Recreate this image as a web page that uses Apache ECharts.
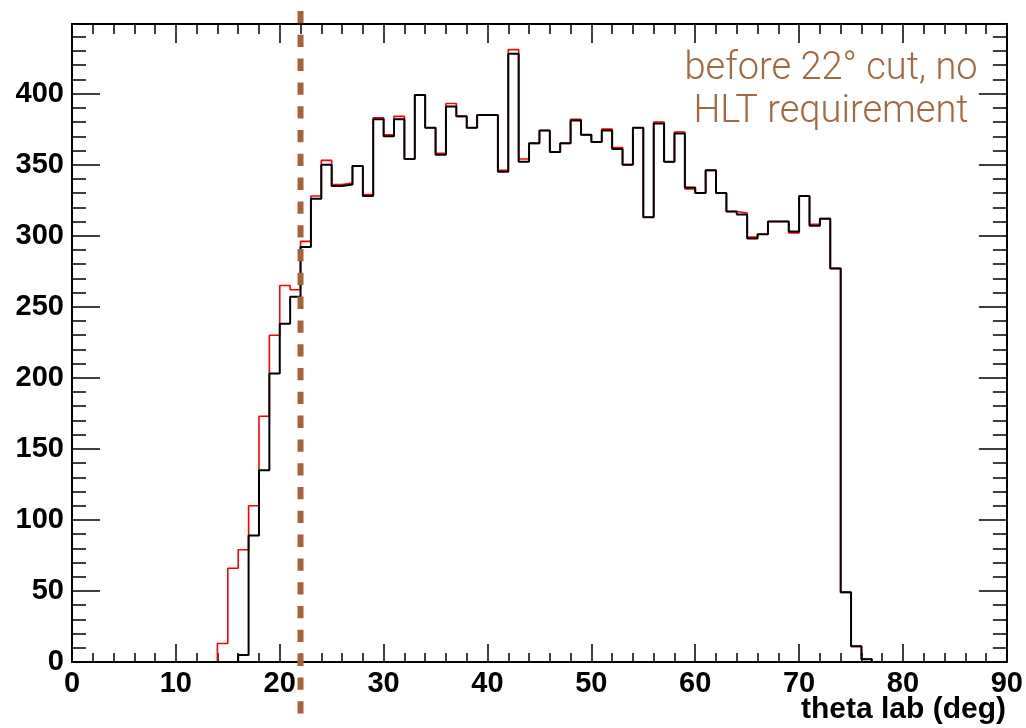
<!DOCTYPE html>
<html>
<head>
<meta charset="utf-8">
<script src="https://cdn.jsdelivr.net/npm/echarts@6/dist/echarts.min.js"></script>
<style>
  html, body { margin: 0; padding: 0; background: #fff; }
  #chart { width: 1026px; height: 728px; }
</style>
</head>
<body>
<div id="chart"></div>
<script>
// bin lower edges (deg), 1 deg wide bins from 0 to 90
const binEdges = Array.from({ length: 90 }, (_, i) => i);

// before cut, no HLT requirement (red)
const redCounts = [
  0, 0, 0, 0, 0, 0, 0, 0, 0, 0,
  0, 0, 0, 0, 13, 66, 79, 110, 173, 230,
  265, 262, 296, 328, 353, 336, 337, 349, 329, 383,
  371, 384, 354, 399, 376, 358, 393, 384, 376, 385,
  385, 346, 431, 354, 365, 374, 359, 365, 382, 371,
  366, 375, 362, 350, 376, 313, 380, 352, 373, 333,
  330, 346, 330, 317, 316, 299, 301, 310, 310, 302,
  328, 308, 312, 277, 49, 11, 2, 0, 0, 0,
  0, 0, 0, 0, 0, 0, 0, 0, 0, 0
];

// black histogram
const blackCounts = [
  0, 0, 0, 0, 0, 0, 0, 0, 0, 0,
  0, 0, 0, 0, 0, 0, 5, 89, 135, 203,
  238, 257, 292, 326, 350, 335, 336, 349, 328, 382,
  370, 382, 354, 399, 376, 357, 391, 384, 376, 385,
  385, 345, 428, 352, 365, 374, 359, 365, 381, 371,
  366, 374, 361, 350, 376, 313, 379, 352, 372, 334,
  330, 346, 330, 317, 315, 298, 301, 310, 310, 303,
  328, 307, 312, 277, 49, 11, 2, 0, 0, 0,
  0, 0, 0, 0, 0, 0, 0, 0, 0, 0
];

const cutAngle = 22;
const noteLines = ['before 22\u00b0 cut, no', 'HLT requirement'];

// step points: each bin's value from its low edge, closed at the last high edge
const toSteps = counts => {
  const pts = binEdges.map((x, i) => [x, counts[i]]);
  pts.push([binEdges[binEdges.length - 1] + 1, counts[counts.length - 1]]);
  return pts;
};

const chart = echarts.init(document.getElementById('chart'), null, { renderer: 'canvas' });

const labelFont = { fontFamily: '"Liberation Sans", Arial, sans-serif', fontWeight: 'bold', fontSize: 29, color: '#000' };
const frameLine = { show: true, onZero: false, lineStyle: { color: '#000', width: 2 } };

const xBase = { type: 'value', min: 0, max: 90, interval: 10, splitLine: { show: false }, axisLine: frameLine };
const yBase = { type: 'value', min: 0, max: 449, interval: 50, splitLine: { show: false }, axisLine: frameLine };

chart.setOption({
  backgroundColor: '#fff',
  animation: false,
  grid: { left: 72, right: 19, top: 24, bottom: 66, containLabel: false },
  title: {
    text: 'theta lab (deg)',
    right: 20, top: 694, padding: 0,
    textStyle: { ...labelFont, fontSize: 30, lineHeight: 32 }
  },
  xAxis: [
    { ...xBase, position: 'bottom',
      axisTick: { inside: true, length: 18, lineStyle: { color: '#000', width: 1.5 } },
      minorTick: { show: true, splitNumber: 5, length: 9, lineStyle: { color: '#000', width: 1.5 } },
      axisLabel: { ...labelFont, margin: 7 } },
    { ...xBase, position: 'top',
      axisTick: { inside: true, length: 19, lineStyle: { color: '#000', width: 1.5 } },
      minorTick: { show: true, splitNumber: 5, length: 10, lineStyle: { color: '#000', width: 1.5 } },
      axisLabel: { show: false } }
  ],
  yAxis: [
    { ...yBase, position: 'left',
      axisTick: { inside: true, length: 28, lineStyle: { color: '#000', width: 1.5 } },
      minorTick: { show: true, splitNumber: 5, length: 14, lineStyle: { color: '#000', width: 1.5 } },
      axisLabel: { ...labelFont, margin: 8, showMaxLabel: false } },
    { ...yBase, position: 'right',
      axisTick: { inside: true, length: 28, lineStyle: { color: '#000', width: 1.5 } },
      minorTick: { show: true, splitNumber: 5, length: 14, lineStyle: { color: '#000', width: 1.5 } },
      axisLabel: { show: false } }
  ],
  series: [
    {
      name: 'before cut', type: 'line', step: 'end', showSymbol: false, symbol: 'none',
      data: toSteps(redCounts),
      lineStyle: { color: '#ff0000', width: 1.6 }, z: 2
    },
    {
      name: 'after cut', type: 'line', step: 'end', showSymbol: false, symbol: 'none',
      data: toSteps(blackCounts),
      lineStyle: { color: '#000', width: 2 }, z: 3
    }
  ]
});

// vertical dashed marker at the cut, running past the frame like the original
const cutX = chart.convertToPixel({ xAxisIndex: 0 }, cutAngle);
chart.setOption({
  graphic: [
    {
      type: 'line', z: 100, silent: true,
      shape: { x1: cutX, y1: 11, x2: cutX, y2: 720 },
      style: { stroke: '#a5633a', lineWidth: 6, lineDash: [12.3, 11.5] }
    },
    ...noteLines.map((t, i) => ({
      type: 'text', z: 100, silent: true,
      x: 831, y: 69 + i * 43,
      style: {
        text: t, fill: '#a5673f',
        font: '300 38px Roboto, "Liberation Sans", sans-serif',
        align: 'center', verticalAlign: 'middle'
      }
    }))
  ]
});
</script>
</body>
</html>
